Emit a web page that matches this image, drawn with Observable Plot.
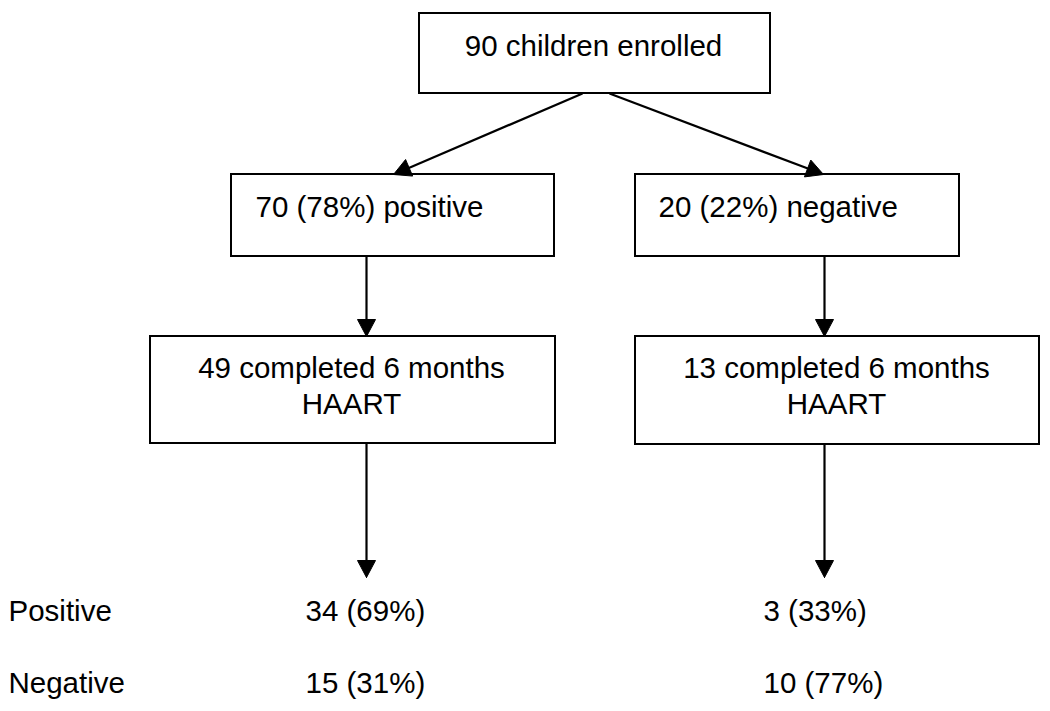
<!DOCTYPE html>
<html>
<head>
<meta charset="utf-8">
<script src="https://cdn.jsdelivr.net/npm/d3@7"></script>
<script src="https://cdn.jsdelivr.net/npm/@observablehq/plot@0.6"></script>
<style>
  html, body { margin: 0; padding: 0; background: #fff; }
  #chart svg { display: block; }
</style>
</head>
<body>
<div id="chart"></div>
<script>
// ---- data ----
const enrolledCount = 90;
const groupNames = ["positive", "negative"];
const groupCounts = [70, 20];
const groupPercents = [78, 22];
const completedCounts = [49, 13];
const outcomeLabels = ["Positive", "Negative"];
const outcomePositiveCounts = [34, 3];
const outcomePositivePercents = [69, 33];
const outcomeNegativeCounts = [15, 10];
const outcomeNegativePercents = [31, 77];

// ---- layout (pixel space) ----
const boxes = [
  {id: "top", x1: 419, x2: 770, y1: 13, y2: 93},
  {id: "g0", x1: 231, x2: 554, y1: 174, y2: 256},
  {id: "g1", x1: 635, x2: 959, y1: 174, y2: 256},
  {id: "c0", x1: 150, x2: 555, y1: 336, y2: 443},
  {id: "c1", x1: 635, x2: 1039, y1: 336, y2: 444}
];
const arrows = [
  {id: "a0", x1: 582, y1: 93, x2: 393, y2: 174},
  {id: "a1", x1: 609, y1: 93, x2: 823, y2: 174},
  {id: "a2", x1: 366, y1: 256, x2: 366, y2: 336},
  {id: "a3", x1: 824, y1: 256, x2: 824, y2: 336},
  {id: "a4", x1: 366, y1: 443, x2: 366, y2: 577},
  {id: "a5", x1: 824, y1: 443, x2: 824, y2: 577}
];
const headLen = 17, headHalf = 9;

const shafts = arrows.map(a => {
  const dx = a.x2 - a.x1, dy = a.y2 - a.y1, L = Math.hypot(dx, dy);
  return {x1: a.x1, y1: a.y1, x2: a.x2 - dx / L * (headLen - 1), y2: a.y2 - dy / L * (headLen - 1)};
});
const heads = arrows.flatMap(a => {
  const dx = a.x2 - a.x1, dy = a.y2 - a.y1, L = Math.hypot(dx, dy);
  const ux = dx / L, uy = dy / L, px = -uy, py = ux;
  const bx = a.x2 - ux * headLen, by = a.y2 - uy * headLen;
  return [
    {id: a.id, x: a.x2, y: a.y2},
    {id: a.id, x: bx + px * headHalf, y: by + py * headHalf},
    {id: a.id, x: bx - px * headHalf, y: by - py * headHalf},
    {id: a.id, x: a.x2, y: a.y2}
  ];
});

const texts = [
  {x: 593, y: 55, anchor: "middle", text: `${enrolledCount} children enrolled`},
  {x: 255, y: 216, anchor: "start", text: `${groupCounts[0]} (${groupPercents[0]}%) ${groupNames[0]}`},
  {x: 658, y: 216, anchor: "start", text: `${groupCounts[1]} (${groupPercents[1]}%) ${groupNames[1]}`},
  {x: 351, y: 413, anchor: "middle", text: `${completedCounts[0]} completed 6 months\nHAART`},
  {x: 836, y: 413, anchor: "middle", text: `${completedCounts[1]} completed 6 months\nHAART`},
  {x: 8, y: 620, anchor: "start", text: outcomeLabels[0]},
  {x: 8, y: 692, anchor: "start", text: outcomeLabels[1]},
  {x: 305, y: 620, anchor: "start", text: `${outcomePositiveCounts[0]} (${outcomePositivePercents[0]}%)`},
  {x: 763, y: 620, anchor: "start", text: `${outcomePositiveCounts[1]} (${outcomePositivePercents[1]}%)`},
  {x: 305, y: 692, anchor: "start", text: `${outcomeNegativeCounts[0]} (${outcomeNegativePercents[0]}%)`},
  {x: 763, y: 692, anchor: "start", text: `${outcomeNegativeCounts[1]} (${outcomeNegativePercents[1]}%)`}
];

const font = "'Liberation Sans', Arial, Helvetica, sans-serif";

const chart = Plot.plot({
  width: 1050,
  height: 711,
  margin: 0,
  style: {background: "#fff", fontFamily: font},
  x: {domain: [0, 1050], range: [0, 1050], axis: null},
  y: {domain: [0, 711], range: [0, 711], axis: null},
  marks: [
    Plot.rect(boxes, {x1: "x1", x2: "x2", y1: "y1", y2: "y2", fill: "white", stroke: "black", strokeWidth: 2}),
    Plot.link(shafts, {x1: "x1", y1: "y1", x2: "x2", y2: "y2", stroke: "black", strokeWidth: 2.2}),
    Plot.line(heads, {x: "x", y: "y", z: "id", fill: "black", stroke: "black", strokeWidth: 1, curve: "linear"}),
    Plot.text(texts.filter(t => t.anchor === "middle"), {x: "x", y: "y", text: "text", textAnchor: "middle", lineAnchor: "bottom", fontSize: 29.5, fill: "black", fontFamily: font, lineHeight: 1.19}),
    Plot.text(texts.filter(t => t.anchor === "start"), {x: "x", y: "y", text: "text", textAnchor: "start", lineAnchor: "bottom", fontSize: 29.5, fill: "black", fontFamily: font})
  ]
});
document.getElementById("chart").appendChild(chart);
</script>
</body>
</html>
